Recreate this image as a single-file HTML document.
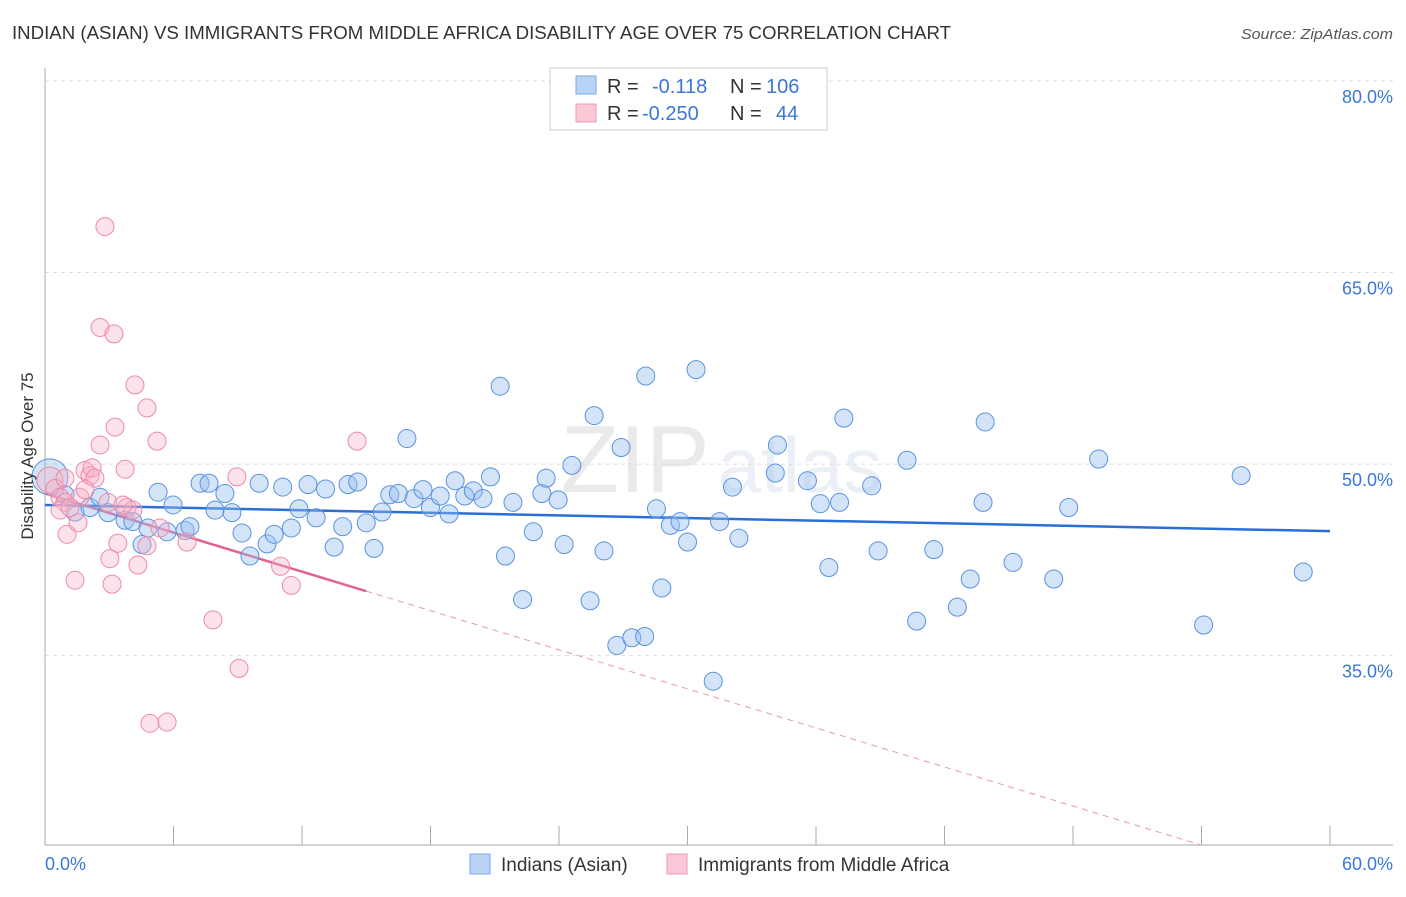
<!DOCTYPE html>
<html><head><meta charset="utf-8"><style>
body{margin:0;background:#fff;font-family:"Liberation Sans",sans-serif}
svg text{font-family:"Liberation Sans",sans-serif}
</style></head><body>
<svg id="chart" width="1406" height="892" viewBox="0 0 1406 892" xmlns="http://www.w3.org/2000/svg">
<text x="12" y="39" font-size="18" fill="#333" textLength="939" lengthAdjust="spacingAndGlyphs">INDIAN (ASIAN) VS IMMIGRANTS FROM MIDDLE AFRICA DISABILITY AGE OVER 75 CORRELATION CHART</text>
<text x="1393" y="39" font-size="15" fill="#555" font-style="italic" text-anchor="end" textLength="152" lengthAdjust="spacingAndGlyphs">Source: ZipAtlas.com</text>
<g id="watermark" opacity="0.13">
<text x="635" y="492" font-size="96" font-family="Liberation Serif" fill="#666" text-anchor="middle">ZIP</text>
<text x="800" y="492" font-size="78" fill="#6a8fc8" text-anchor="middle">atlas</text>
</g>
<g id="grid"></g>
<g id="axes"></g>
<g id="trend"></g>
<g id="points"></g>
<g>
<rect x="550" y="68" width="277" height="62" fill="#fff" stroke="#ccc"/>
<rect x="576" y="76" width="20" height="18" fill="#b9d3f5" stroke="#7aa8e6"/>
<rect x="576" y="104" width="20" height="18" fill="#fac8d6" stroke="#f09ab3"/>
<text x="607" y="93" font-size="20" fill="#333">R =</text>
<text x="652" y="93" font-size="20" fill="#3b78d6">-0.118</text>
<text x="730" y="93" font-size="20" fill="#333">N =</text>
<text x="766" y="93" font-size="20" fill="#3b78d6">106</text>
<text x="607" y="120" font-size="20" fill="#333">R =</text>
<text x="642" y="120" font-size="20" fill="#3b78d6">-0.250</text>
<text x="730" y="120" font-size="20" fill="#333">N =</text>
<text x="776" y="120" font-size="20" fill="#3b78d6">44</text>
</g>
<g>
<rect x="470" y="854" width="20" height="20" fill="#b9d3f5" stroke="#7aa8e6"/>
<text x="501" y="871" font-size="19" fill="#333">Indians (Asian)</text>
<rect x="667" y="854" width="20" height="20" fill="#fac8d6" stroke="#f09ab3"/>
<text x="698" y="871" font-size="19" fill="#333">Immigrants from Middle Africa</text>
</g>
<text transform="translate(33,456) rotate(-90)" font-size="17" fill="#333" text-anchor="middle">Disability Age Over 75</text>
</svg>
<script>
const xTicks=[0,60];
const yTicks=[35,50,65,80];
const blueX=[0.23,0.93,1.4,2.1,2.57,2.94,3.74,4.1,4.53,4.81,5.28,5.7,5.98,6.54,6.77,7.24,7.66,7.94,8.4,8.73,9.2,9.57,10.0,10.37,10.7,11.1,11.5,11.86,12.28,12.66,13.1,13.5,13.9,14.15,14.6,15.0,15.36,15.74,16.1,16.5,16.9,17.23,17.65,18.0,18.45,18.87,19.15,19.6,20.0,20.45,20.8,21.25,21.5,21.85,22.3,22.8,23.2,23.4,23.96,24.24,24.6,25.45,25.64,26.1,26.7,26.9,27.4,28.0,28.05,28.55,28.8,29.2,29.65,30.0,30.4,31.2,31.5,32.1,32.4,34.1,34.2,35.6,36.2,36.6,37.1,37.3,38.6,38.9,40.25,40.7,41.5,42.6,43.2,43.8,43.9,45.2,47.1,47.8,49.2,54.1,55.85,58.75];
const blueY=[49.0,47.6,46.25,46.6,47.4,46.2,45.6,45.5,43.7,45.0,47.8,44.7,46.8,44.8,45.1,48.5,48.5,46.4,47.7,46.2,44.6,42.8,48.5,43.75,44.5,48.2,45.0,46.5,48.4,45.8,48.05,43.5,45.1,48.4,48.6,45.4,43.4,46.25,47.6,47.7,52.0,47.3,48.0,46.6,47.5,46.1,48.7,47.5,47.9,47.3,49.0,56.1,42.8,47.0,39.4,44.7,47.7,48.9,47.2,43.7,49.9,39.3,53.8,43.2,35.8,51.3,36.4,36.5,56.9,46.5,40.3,45.2,45.5,43.9,57.4,33.0,45.5,48.2,44.2,49.3,51.5,48.7,46.9,41.9,47.0,53.6,48.3,43.2,50.3,37.7,43.3,38.8,41.0,47.0,53.3,42.3,41.0,46.6,50.4,37.4,49.1,41.55];
const pinkX=[0.23,0.47,0.7,0.93,1.03,1.4,1.54,1.63,1.87,2.1,2.2,2.33,2.57,2.8,2.57,3.22,3.03,3.13,3.27,3.4,3.74,3.83,4.1,4.2,4.34,4.76,4.76,4.9,5.23,5.7,6.63,7.84,8.96,9.06,11.0,11.5,14.57,0.7,1.17,2.94,0.93,3.64,5.37,1.87];
const pinkY=[48.75,48.1,47.4,47.0,44.5,40.9,45.4,47.4,49.5,49.1,49.7,48.9,51.5,68.6,60.7,60.2,42.6,40.6,52.9,43.8,49.6,46.6,46.4,56.2,42.1,54.4,43.6,29.7,51.8,29.8,43.9,37.8,49.0,34.0,42.0,40.5,51.8,46.4,46.6,47.0,48.9,46.8,45.0,48.0];
const blueTrend=[46.8,44.75];
const pinkTrend=[47.7,-0.51,15,54];
const NS="http://www.w3.org/2000/svg";
const X0=45,X1=1330,Y80=81,PPU=12.77;
function sx(v){return X0+(v/60)*(X1-X0);}
function sy(v){return Y80+(80-v)*PPU;}
function mk(tag,attrs,parent){const e=document.createElementNS(NS,tag);for(const k in attrs)e.setAttribute(k,attrs[k]);parent.appendChild(e);return e;}
const grid=document.getElementById('grid'),axes=document.getElementById('axes'),trend=document.getElementById('trend'),pts=document.getElementById('points');
yTicks.forEach(t=>{
 const l=mk('line',{x1:45,x2:1393,y1:sy(t),y2:sy(t),stroke:'#ddd','stroke-dasharray':'4,4'},grid);
 
 
 const tx=mk('text',{x:1393,y:sy(t)+22,'font-size':18,fill:'#3b78d6','text-anchor':'end'},axes);
 tx.textContent=t.toFixed(1)+'%';
 
 
});
const yl=mk('line',{x1:45,x2:45,y1:68,y2:845,stroke:'#aaa'},axes);


const xl=mk('line',{x1:45,x2:1393,y1:845,y2:845,stroke:'#aaa'},axes);


for(let i=0;i<=10;i++){
 const tk=mk('line',{x1:sx(i*6),x2:sx(i*6),y1:826,y2:845,stroke:'#aaa'},axes);
 
 
}
xTicks.forEach((t,i)=>{
 const tx=mk('text',{x:i==0?45:1393,y:870,'font-size':18,fill:'#3b78d6','text-anchor':i==0?'start':'end'},axes);
 tx.textContent=t.toFixed(1)+'%';
 
 
});
blueX.forEach((x,i)=>{
 const c=mk('circle',{cx:sx(x),cy:sy(blueY[i]),r:i==0?18:9,fill:'rgba(150,190,240,0.42)',stroke:'#5a93dd','stroke-width':1},pts);
 
 
});
pinkX.forEach((x,i)=>{
 const c=mk('circle',{cx:sx(x),cy:sy(pinkY[i]),r:i==0?13:9,fill:'rgba(248,180,200,0.38)',stroke:'#ec8aa8','stroke-width':1},pts);
 
 
});
const bt=mk('line',{x1:sx(0),y1:sy(blueTrend[0]),x2:sx(60),y2:sy(blueTrend[1]),stroke:'#2a6fd6','stroke-width':2.5},trend);


const pf=x=>pinkTrend[0]+pinkTrend[1]*x;
const pt=mk('line',{x1:sx(0),y1:sy(pf(0)),x2:sx(pinkTrend[2]),y2:sy(pf(pinkTrend[2])),stroke:'#e0648c','stroke-width':2.5},trend);


const pd=mk('line',{x1:sx(pinkTrend[2]),y1:sy(pf(pinkTrend[2])),x2:sx(pinkTrend[3]),y2:sy(pf(pinkTrend[3])),stroke:'#e995b0','stroke-width':1,'stroke-dasharray':'6,5'},trend);


</script>
</body></html>
